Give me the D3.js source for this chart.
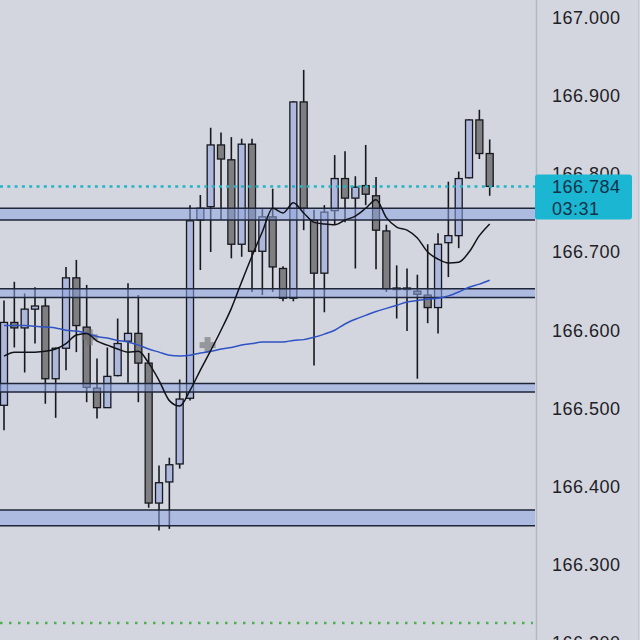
<!DOCTYPE html>
<html><head><meta charset="utf-8">
<script src="https://cdn.jsdelivr.net/npm/d3@7/dist/d3.min.js"></script>
<style>html,body{margin:0;padding:0;background:#d3d6de;}svg{display:block;}</style>
</head><body>
<svg id="chart" width="640" height="640"></svg>
<script>
// ---- data ----
const opens  = [166.504,166.610,166.603,166.627,166.631,166.538,166.577,166.667,166.604,166.526,166.501,166.542,166.586,166.596,166.558,166.379,166.406,166.429,166.513,166.741,166.758,166.837,166.818,166.710,166.838,166.701,166.745,166.679,166.641,166.892,166.741,166.673,166.753,166.794,166.769,166.785,166.772,166.727,166.654,166.653,166.650,166.645,166.629,166.712,166.721,166.795,166.869,166.826];
const highs  = [166.638,166.662,166.647,166.655,166.641,166.578,166.681,166.690,166.658,166.564,166.578,166.615,166.660,166.645,166.571,166.427,166.437,166.537,166.760,166.773,166.859,166.853,166.847,166.845,166.845,166.756,166.781,166.682,166.893,166.933,166.754,166.760,166.824,166.829,166.797,166.837,166.796,166.735,166.683,166.679,166.671,166.710,166.724,166.790,166.803,166.870,166.882,166.844];
const lows   = [166.472,166.578,166.546,166.583,166.506,166.488,166.549,166.572,166.508,166.487,166.501,166.541,166.533,166.508,166.373,166.344,166.346,166.423,166.510,166.677,166.700,166.741,166.692,166.694,166.649,166.645,166.649,166.637,166.637,166.728,166.555,166.623,166.735,166.738,166.679,166.760,166.678,166.649,166.615,166.599,166.538,166.609,166.596,166.668,166.705,166.794,166.819,166.772];
const closes = [166.610,166.603,166.627,166.631,166.538,166.577,166.667,166.606,166.527,166.501,166.541,166.583,166.596,166.558,166.379,166.405,166.428,166.512,166.740,166.756,166.837,166.819,166.710,166.838,166.701,166.745,166.681,166.641,166.892,166.756,166.673,166.751,166.794,166.769,166.783,166.774,166.728,166.653,166.653,166.654,166.646,166.629,166.710,166.721,166.794,166.869,166.826,166.784];
const maFast = [166.567,166.572,166.572,166.572,166.573,166.576,166.583,166.594,166.596,166.586,166.581,166.576,166.572,166.573,166.558,166.536,166.510,166.503,166.523,166.549,166.574,166.600,166.628,166.662,166.695,166.726,166.756,166.750,166.763,166.750,166.738,166.736,166.735,166.741,166.746,166.756,166.767,166.744,166.732,166.728,166.718,166.700,166.691,166.686,166.687,166.700,166.721,166.736];
const maSlow = [166.606,166.606,166.606,166.605,166.604,166.603,166.600,166.599,166.596,166.592,166.590,166.587,166.585,166.581,166.576,166.572,166.568,166.567,166.568,166.571,166.573,166.576,166.578,166.581,166.583,166.585,166.585,166.585,166.587,166.588,166.591,166.595,166.600,166.608,166.614,166.619,166.624,166.628,166.632,166.636,166.638,166.640,166.641,166.644,166.649,166.655,166.659,166.664];
const zoneTop    = [166.756,166.653,166.532,166.370];
const zoneBottom = [166.741,166.642,166.521,166.350];
const tickValues = [167.0,166.9,166.8,166.7,166.6,166.5,166.4,166.3,166.2];
const lastPrice = 166.784;
const countdown = "03:31";
const greenLevel = 166.2256;
const markerIdx = [8.3, 19.7];
const markerVal = [166.591, 166.581];

// ---- layout ----
const W = 640, H = 640, plotR = 535;
const svg = d3.select("#chart");
const x = d3.scaleLinear().domain([0, opens.length - 1]).range([4, 489.7]);
const y = d3.scaleLinear().domain([166.2, 167.0]).range([643, 17.5]);

svg.append("rect").attr("width", W).attr("height", H).attr("fill", "#d3d6de");

const plot = svg.append("g");
const idx = d3.range(opens.length);

// wicks
plot.selectAll("line.wick").data(idx).join("line")
  .attr("x1", i => x(i)).attr("x2", i => x(i))
  .attr("y1", i => y(highs[i])).attr("y2", i => y(lows[i]))
  .attr("stroke", "#16181d").attr("stroke-width", 1.6);

// bodies
const bw = 7;
plot.selectAll("rect.body").data(idx).join("rect")
  .attr("x", i => x(i) - bw / 2)
  .attr("y", i => y(Math.max(opens[i], closes[i])))
  .attr("width", bw)
  .attr("height", i => Math.max(1.5, Math.abs(y(opens[i]) - y(closes[i]))))
  .attr("fill", i => closes[i] >= opens[i] ? "#aeb8dc" : "#7f7f82")
  .attr("stroke", "#16181d").attr("stroke-width", 1.3);

// zones
zoneTop.forEach((t, k) => {
  const b = zoneBottom[k];
  plot.append("rect").attr("x", 0).attr("width", plotR)
    .attr("y", y(t)).attr("height", y(b) - y(t))
    .attr("fill", "#90a5e2").attr("fill-opacity", 0.55);
  [t, b].forEach(v => plot.append("line")
    .attr("x1", 0).attr("x2", plotR).attr("y1", y(v)).attr("y2", y(v))
    .attr("stroke", "#1e2538").attr("stroke-width", 1.5));
});

// markers (gray crosses)
markerIdx.forEach((mi, k) => {
  const cx = x(mi), cy = y(markerVal[k]);
  const g = plot.append("g").attr("opacity", 0.6).attr("fill", "#6e6e70");
  g.append("rect").attr("x", cx - 8).attr("y", cy - 3).attr("width", 16).attr("height", 6);
  g.append("rect").attr("x", cx - 3).attr("y", cy - 8).attr("width", 6).attr("height", 16);
});

// moving averages
const line = arr => d3.line().x((d, i) => x(i)).y(d => y(d)).curve(d3.curveMonotoneX)(arr);
plot.append("path").attr("d", line(maSlow)).attr("fill", "none")
  .attr("stroke", "#2f52c4").attr("stroke-width", 1.5);
plot.append("path").attr("d", line(maFast)).attr("fill", "none")
  .attr("stroke", "#111318").attr("stroke-width", 1.5);

// last price dotted line
plot.append("line").attr("x1", 0).attr("x2", plotR)
  .attr("y1", y(lastPrice)).attr("y2", y(lastPrice))
  .attr("stroke", "#22b4c8").attr("stroke-width", 2.5).attr("stroke-dasharray", "3,4.3");

// green dotted line
plot.append("line").attr("x1", 0).attr("x2", plotR - 2)
  .attr("y1", y(greenLevel)).attr("y2", y(greenLevel))
  .attr("stroke", "#4caf50").attr("stroke-width", 2.5).attr("stroke-dasharray", "2.5,6.5");

// right axis
svg.append("line").attr("x1", 536.5).attr("x2", 536.5).attr("y1", 0).attr("y2", H)
  .attr("stroke", "#b3b6be").attr("stroke-width", 1.5);
svg.append("line").attr("x1", 638.5).attr("x2", 638.5).attr("y1", 0).attr("y2", H)
  .attr("stroke", "#c4c7cf").attr("stroke-width", 1);

const axisG = svg.append("g").attr("transform", `translate(536,0)`);
const axis = d3.axisRight(y).tickValues(tickValues).tickSize(0).tickPadding(16)
  .tickFormat(d3.format(".3f"));
axisG.call(axis);
axisG.select(".domain").remove();
axisG.selectAll("text").attr("fill", "#1f2126")
  .style("font-family", "'Liberation Sans', Arial, sans-serif")
  .style("font-size", "18px").style("letter-spacing", "0.5px");

// last price label
const lbl = svg.append("g");
lbl.append("rect").attr("x", 535).attr("y", y(lastPrice) - 12).attr("width", 97).attr("height", 45)
  .attr("rx", 3).attr("fill", "#1bb6d2");
lbl.append("text").attr("x", 552).attr("y", y(lastPrice) + 7)
  .text(d3.format(".3f")(lastPrice)).attr("fill", "#123249")
  .style("font-family", "'Liberation Sans', Arial, sans-serif")
  .style("font-size", "18px").style("letter-spacing", "0.5px");
lbl.append("text").attr("x", 552).attr("y", y(lastPrice) + 29)
  .text(countdown).attr("fill", "#123249")
  .style("font-family", "'Liberation Sans', Arial, sans-serif")
  .style("font-size", "18px").style("letter-spacing", "0.5px");
</script>
</body></html>
